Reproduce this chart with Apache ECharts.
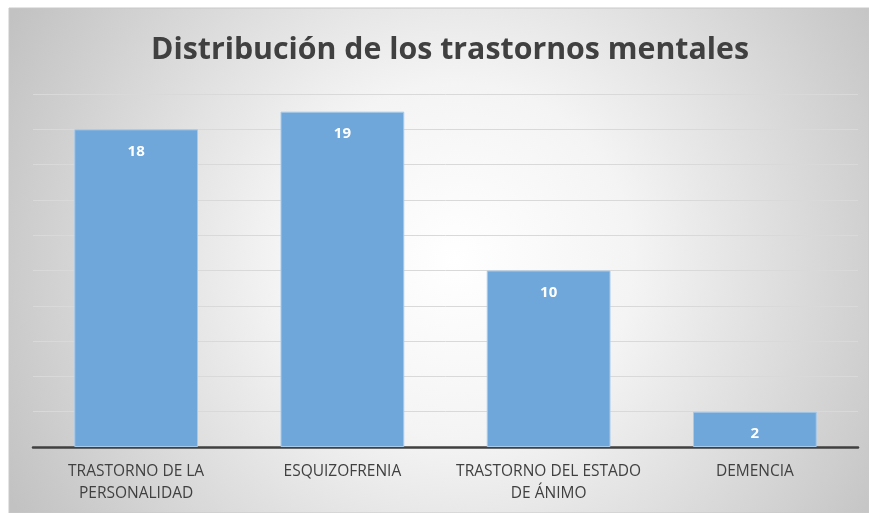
<!DOCTYPE html>
<html>
<head>
<meta charset="utf-8">
<script src="https://cdn.jsdelivr.net/npm/echarts@6/dist/echarts.min.js"></script>
<style>
  html, body { margin: 0; padding: 0; background: #fff; }
  #chart { width: 869px; height: 513px; }
</style>
</head>
<body>
<div id="chart"></div>
<script>
// datos del gráfico
const categorias = ['TRASTORNO DE LA\nPERSONALIDAD', 'ESQUIZOFRENIA', 'TRASTORNO DEL ESTADO\nDE ÁNIMO', 'DEMENCIA'];
const casos = [18, 19, 10, 2];
const ejeMax = 20;
const ejeIntervalo = 2;

const chart = echarts.init(document.getElementById('chart'));

const option = {
    backgroundColor: '#ffffff',
    animation: false,
    graphic: [
        {
            type: 'rect',
            z: -10,
            silent: true,
            shape: { x: 9, y: 8, width: 860, height: 505 },
            style: {
                fill: {
                    type: 'radial', x: 0.52, y: 0.5, r: 1.0,
                    colorStops: [
                        { offset: 0, color: '#ffffff' },
                        { offset: 0.35, color: '#f4f4f4' },
                        { offset: 1, color: '#c2c2c2' }
                    ]
                },
                stroke: '#c8c8c8',
                lineWidth: 1
            }
        }
    ],
    title: {
        text: 'Distribución de los trastornos mentales',
        left: 146,
        top: 30,
        textStyle: {
            fontFamily: 'Open Sans',
            fontWeight: 'bold',
            fontSize: 30.3,
            color: '#404040'
        }
    },
    grid: {
        left: 33,
        right: 11,
        top: 94,
        bottom: 66
    },
    xAxis: {
        type: 'category',
        data: categorias,
        axisTick: { show: false },
        axisLine: { lineStyle: { color: '#404040', width: 2.5 } },
        axisLabel: {
            interval: 0,
            margin: 14,
            color: '#404040',
            fontFamily: 'Open Sans',
            fontSize: 15.5,
            lineHeight: 22
        }
    },
    yAxis: {
        type: 'value',
        min: 0,
        max: ejeMax,
        interval: ejeIntervalo,
        axisLabel: { show: false },
        axisLine: { show: false },
        axisTick: { show: false },
        splitLine: { lineStyle: { color: '#d9d9d9', width: 1 } }
    },
    series: [
        {
            name: 'Casos',
            type: 'bar',
            data: casos,
            barWidth: '60%',
            itemStyle: {
                color: '#70a7da',
                borderColor: '#a8caea',
                borderWidth: 1
            },
            label: {
                show: true,
                position: 'insideTop',
                distance: 15,
                color: '#ffffff',
                fontFamily: 'Open Sans',
                fontWeight: 'bold',
                fontSize: 15
            }
        }
    ]
};

chart.setOption(option);
</script>
</body>
</html>
